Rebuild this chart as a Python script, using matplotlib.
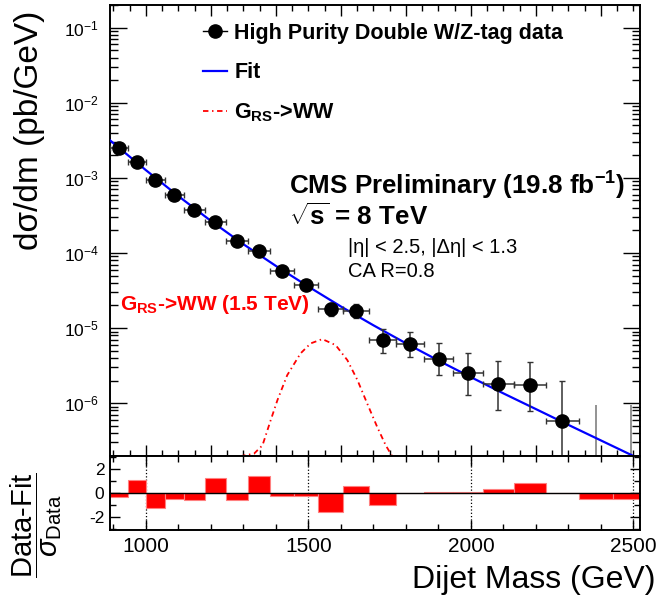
import matplotlib
matplotlib.use("Agg")
import matplotlib.pyplot as plt
from matplotlib.lines import Line2D
from matplotlib.ticker import MultipleLocator, LogLocator, NullFormatter
import numpy as np

plt.rcParams['font.family'] = ['Liberation Sans', 'DejaVu Sans']
plt.rcParams['mathtext.fontset'] = 'custom'
plt.rcParams['mathtext.rm'] = 'Liberation Sans'
plt.rcParams['mathtext.it'] = 'Liberation Sans:italic'
plt.rcParams['mathtext.bf'] = 'Liberation Sans:bold'
plt.rcParams['axes.unicode_minus'] = False

# dijet mass binning (GeV)
bin_edges = [890, 944, 1000, 1058, 1118, 1181, 1246, 1313, 1383, 1455, 1530,
             1607, 1687, 1770, 1856, 1945, 2037, 2132, 2231, 2332, 2438, 2546]

# measured d(sigma)/dm in the first 19 bins (pb/GeV) and asymmetric errors
data_xsec = [2.53e-3, 1.62e-3, 9.4e-4, 5.9e-4, 3.7e-4, 2.56e-4, 1.46e-4, 1.06e-4,
             5.8e-5, 3.7e-5, 1.79e-5, 1.68e-5, 6.9e-6, 6.1e-6, 3.86e-6, 2.49e-6,
             1.79e-6, 1.74e-6, 5.75e-7]
err_lo = [5e-5, 4e-5, 2.9e-5, 2.2e-5, 1.7e-5, 1.4e-5, 1.05e-5, 8.7e-6,
          6.4e-6, 5.0e-6, 3.4e-6, 3.3e-6, 2.2e-6, 1.95e-6, 1.5e-6, 1.22e-6,
          0.99e-6, 0.96e-6, 4.8e-7]
err_hi = [5e-5, 4e-5, 2.9e-5, 2.2e-5, 1.7e-5, 1.4e-5, 1.05e-5, 8.7e-6,
          6.4e-6, 5.0e-6, 3.9e-6, 3.9e-6, 2.8e-6, 2.9e-6, 2.4e-6, 2.1e-6,
          1.86e-6, 1.81e-6, 1.37e-6]
# last two bins are empty: only an upper error bar is shown
empty_hi = [9.5e-7, 9.5e-7]

# background fit
fit_mass = [890, 1000, 1100, 1200, 1300, 1400, 1500, 1600, 1700, 1800,
            1900, 2000, 2100, 2200, 2300, 2400, 2520]
fit_xsec = [3.16e-3, 1.27e-3, 5.73e-4, 2.68e-4, 1.31e-4, 6.73e-5, 3.57e-5,
            1.94e-5, 1.09e-5, 6.28e-6, 3.70e-6, 2.22e-6, 1.35e-6, 8.34e-7,
            5.14e-7, 3.19e-7, 1.80e-7]

# RS graviton -> WW signal shape (1.5 TeV)
sig_mass = [1290, 1333, 1359, 1384, 1405, 1435, 1476, 1507, 1543, 1584,
            1620, 1651, 1681, 1712, 1738, 1760]
sig_xsec = [1.97e-7, 2.13e-7, 2.75e-7, 5.9e-7, 1.10e-6, 2.36e-6, 4.6e-6,
            6.25e-6, 7.13e-6, 5.93e-6, 3.74e-6, 2.03e-6, 9.9e-7, 4.8e-7,
            2.75e-7, 1.9e-7]

# (data - fit) / sigma per bin
pulls = [-0.33, 1.16, -1.19, -0.44, -0.52, 1.30, -0.52, 1.49, -0.25, -0.2,
         -1.54, 0.61, -0.99, 0.03, 0.08, 0.14, 0.36, 0.86, 0.03, -0.44, -0.44]

# labelled decades on the main y axis
y_decades = [1e-6, 1e-5, 1e-4, 1e-3, 1e-2, 1e-1]

W, H = 671, 598
fig = plt.figure(figsize=(W / 100, H / 100), dpi=100)


def fx(x):
    return x / W


def fy(y):
    return 1 - y / H


ax = fig.add_axes([fx(110), fy(455.7), fx(530), (455.7 - 5) / H])
ax2 = fig.add_axes([fx(110), fy(530), fx(530), (530 - 455.7) / H])

edges = np.array(bin_edges, dtype=float)
centers = 0.5 * (edges[:-1] + edges[1:])
halfw = 0.5 * (edges[1:] - edges[:-1])
nd = len(data_xsec)

ax.set_yscale('log')
ax.set_xlim(890, 2520)
ax.set_ylim(2e-7, 0.2)

ax.plot(fit_mass, fit_xsec, color='#0000ff', lw=1.6, zorder=3)
ax.plot(sig_mass, sig_xsec, color='red', lw=1.3, linestyle=(0, (3, 2, 0.8, 2)), zorder=2)
ax.vlines(centers[nd:], ax.get_ylim()[0], empty_hi, color='#808080', lw=1.2)
ax.errorbar(centers[:nd], data_xsec, xerr=halfw[:nd], yerr=[err_lo, err_hi],
            fmt='o', color='k', ecolor='#333333', ms=9.5, elinewidth=1.1,
            capsize=2.5, capthick=1, zorder=4)

ax.xaxis.set_major_locator(MultipleLocator(200))
ax.xaxis.set_minor_locator(MultipleLocator(50))
ax.xaxis.set_major_formatter(NullFormatter())
ax.set_yticks(y_decades)
ax.yaxis.set_minor_locator(LogLocator(base=10, subs=np.arange(2, 10), numticks=20))
ax.yaxis.set_minor_formatter(NullFormatter())
ax.tick_params(axis='both', which='both', direction='in', top=True, right=True)
ax.tick_params(axis='x', which='major', length=8, width=1)
ax.tick_params(axis='x', which='minor', length=4, width=1)
ax.tick_params(axis='y', which='major', length=12, width=1, labelsize=12.5, pad=8)
ax.tick_params(axis='y', which='minor', length=6, width=1)
for s in ax.spines.values():
    s.set_linewidth(1.4)

# lower panel
ax2.bar(edges[:-1], pulls, width=np.diff(edges), align='edge', color='red',
        edgecolor='#ff8080', lw=0.8, zorder=2)
ax2.axhline(0, color='k', lw=1, zorder=3)
ax2.set_xlim(890, 2520)
ax2.set_ylim(-3.05, 3.15)
ax2.xaxis.set_major_locator(MultipleLocator(500))
ax2.xaxis.set_minor_locator(MultipleLocator(100))
ax2.set_yticks([-2, 0, 2])
ax2.yaxis.set_minor_locator(MultipleLocator(1))
ax2.grid(axis='x', which='major', color='k', linestyle=':', lw=0.9, zorder=1)
ax2.set_axisbelow(True)
ax2.tick_params(axis='x', which='both', direction='in', top=True, labelsize=15)
ax2.tick_params(axis='y', which='both', direction='in', right=True, labelsize=12.5)
ax2.tick_params(axis='both', which='major', length=7, width=1)
ax2.tick_params(axis='both', which='minor', length=4, width=1)
ax2.tick_params(axis='y', pad=4)
ax2.tick_params(axis='x', pad=5)
for s in ax2.spines.values():
    s.set_linewidth(1.4)

# axis titles
fig.text(fx(30), fy(130), 'dσ/dm (pb/GeV)', rotation=90, ha='center', va='center',
         fontsize=24)
fig.text(fx(656), fy(580), 'Dijet Mass (GeV)', ha='right', va='center', fontsize=23)
fig.text(fx(36), fy(525), r'$\dfrac{\mathrm{Data}\text{-}\mathrm{Fit}}{\sigma_{\mathrm{Data}}}$',
         rotation=90, ha='center', va='center', fontsize=21)

# legend
handles = [Line2D([], [], marker='o', color='k', ms=9.5, lw=1),
           Line2D([], [], color='#0000ff', lw=1.6),
           Line2D([], [], color='red', lw=1.3, linestyle=(0, (3, 2, 0.8, 2)))]
labels = ['High Purity Double W/Z-tag data', 'Fit', r'G$_{\mathbf{RS}}$->WW']
ax.legend(handles, labels, loc='upper left', bbox_to_anchor=(fx(203), fy(23)),
          bbox_transform=fig.transFigure, frameon=False,
          prop={'weight': 'bold', 'size': 15.5}, handlelength=1.1,
          handletextpad=0.35, labelspacing=0.85, borderpad=0, borderaxespad=0)

# annotations
fig.text(fx(289), fy(186), r'CMS Preliminary (19.8 fb$^{\mathbf{-1}}$)', fontsize=18.7,
         weight='bold', va='center', ha='left')
fig.text(fx(289), fy(217), r'$\sqrt{\mathbf{s}}$ = 8 TeV', fontsize=18.7, weight='bold',
         va='center', ha='left')
fig.text(fx(348), fy(248), '|η| < 2.5, |Δη| < 1.3', fontsize=14.5, va='center', ha='left')
fig.text(fx(348), fy(272), 'CA R=0.8', fontsize=14.5, va='center', ha='left')
fig.text(fx(120), fy(305), r'G$_{\mathbf{RS}}$->WW (1.5 TeV)', fontsize=15, weight='bold',
         color='red', va='center', ha='left')

fig.savefig('out.png', dpi=100)
